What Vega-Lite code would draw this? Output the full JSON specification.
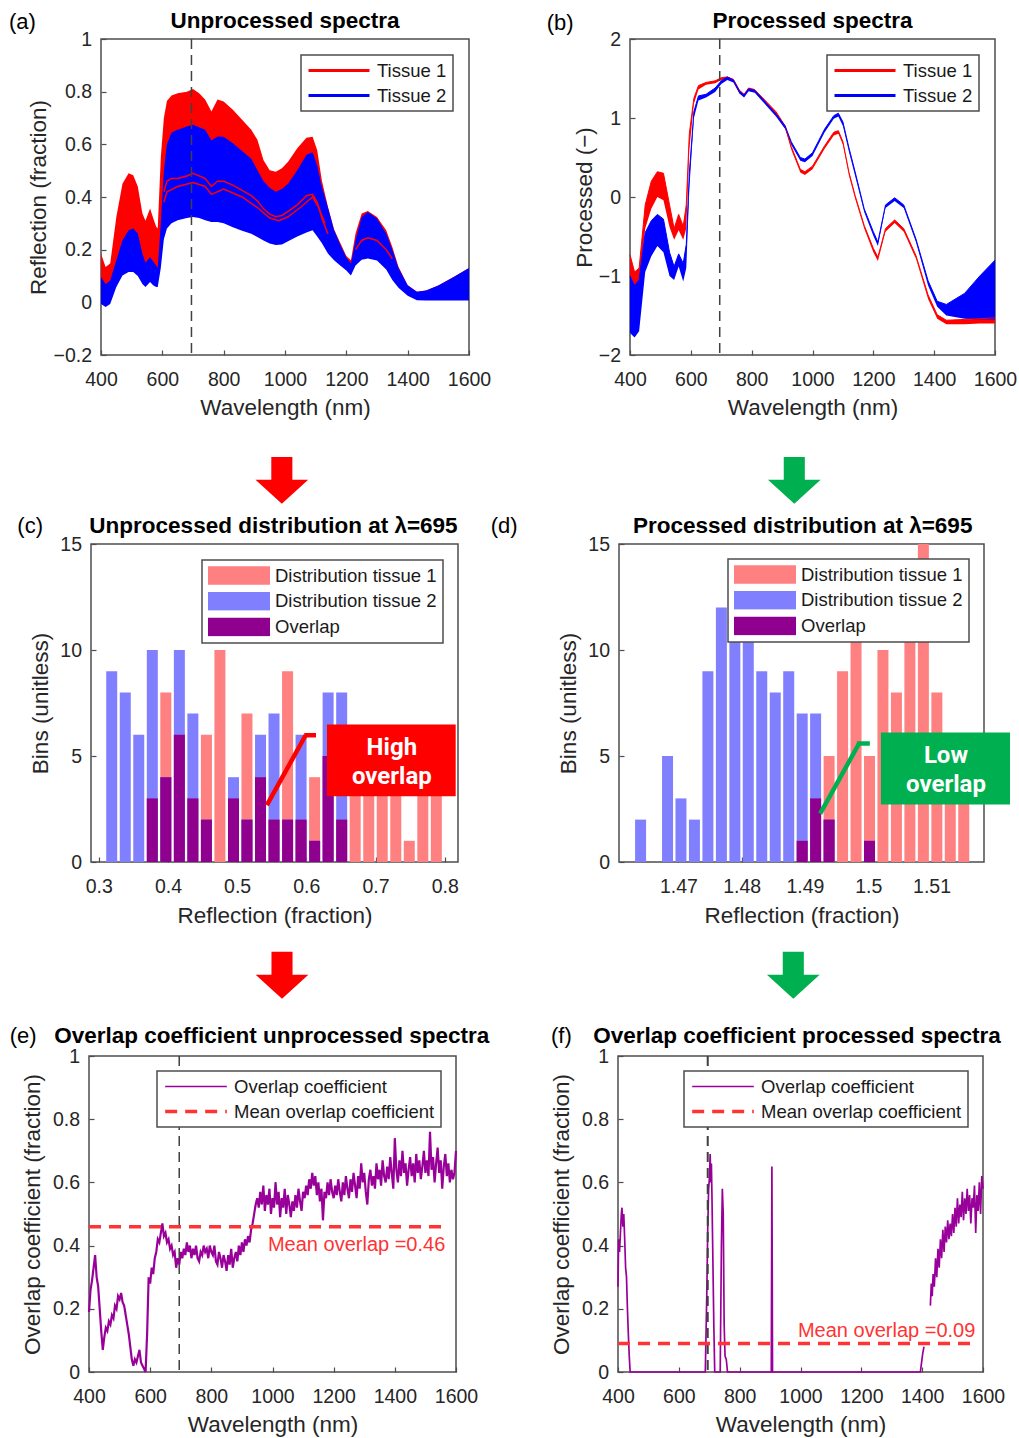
{
"$schema": "https://vega.github.io/schema/vega-lite/v6.json",
"padding": {"left": 8, "top": 9, "right": 4, "bottom": 4},
"background": "white",
"config": {
 "font": "Liberation Sans",
 "view": {"stroke": "#4d4d4d", "strokeWidth": 1.5},
 "axis": {"grid": false, "domain": false, "ticks": true, "tickSize": -5, "tickColor": "#4d4d4d", "tickWidth": 1.2, "labelFont": "Liberation Sans", "labelFontSize": 19.5, "labelColor": "#262626", "labelFlush": false, "labelOverlap": false, "titleFont": "Liberation Sans", "titleFontSize": 22.5, "titleFontWeight": "normal", "titleColor": "#262626"},
 "axisX": {"labelPadding": 20.5, "titleBaseline": "alphabetic", "titleAlign": "center"},
 "axisY": {"labelPadding": 14.5, "titleBaseline": "alphabetic", "titleAlign": "center"},
 "legend": {"labelFont": "Liberation Sans", "labelFontSize": 18.5, "labelColor": "#1a1a1a", "fillColor": "#ffffff", "strokeColor": "#4d4d4d", "strokeWidth": 1.5, "labelLimit": 500, "symbolOpacity": 1, "padding": 6, "clipHeight": 19}
},
"datasets": {
 "specA": [
  {"w":400,"t":"Tissue 1","hi":0.185,"lo":0.05},{"w":400,"t":"Tissue 2","hi":0.096,"lo":-0.006},
  {"w":415,"t":"Tissue 1","hi":0.134,"lo":0.03},{"w":415,"t":"Tissue 2","hi":0.07,"lo":-0.018},
  {"w":430,"t":"Tissue 1","hi":0.147,"lo":0.04},{"w":430,"t":"Tissue 2","hi":0.083,"lo":-0.006},
  {"w":450,"t":"Tissue 1","hi":0.324,"lo":0.1},{"w":450,"t":"Tissue 2","hi":0.16,"lo":0.058},
  {"w":470,"t":"Tissue 1","hi":0.45,"lo":0.15},{"w":470,"t":"Tissue 2","hi":0.236,"lo":0.102},
  {"w":490,"t":"Tissue 1","hi":0.49,"lo":0.18},{"w":490,"t":"Tissue 2","hi":0.274,"lo":0.115},
  {"w":505,"t":"Tissue 1","hi":0.483,"lo":0.18},{"w":505,"t":"Tissue 2","hi":0.28,"lo":0.115},
  {"w":520,"t":"Tissue 1","hi":0.44,"lo":0.16},{"w":520,"t":"Tissue 2","hi":0.261,"lo":0.1},
  {"w":535,"t":"Tissue 1","hi":0.337,"lo":0.12},{"w":535,"t":"Tissue 2","hi":0.185,"lo":0.07},
  {"w":545,"t":"Tissue 1","hi":0.31,"lo":0.1},{"w":545,"t":"Tissue 2","hi":0.15,"lo":0.058},
  {"w":560,"t":"Tissue 1","hi":0.356,"lo":0.12},{"w":560,"t":"Tissue 2","hi":0.172,"lo":0.077},
  {"w":570,"t":"Tissue 1","hi":0.32,"lo":0.1},{"w":570,"t":"Tissue 2","hi":0.155,"lo":0.065},
  {"w":580,"t":"Tissue 1","hi":0.287,"lo":0.1},{"w":580,"t":"Tissue 2","hi":0.14,"lo":0.058},
  {"w":585,"t":"Tissue 1","hi":0.28,"lo":0.09},{"w":585,"t":"Tissue 2","hi":0.13,"lo":0.058},
  {"w":595,"t":"Tissue 1","hi":0.55,"lo":0.2},{"w":595,"t":"Tissue 2","hi":0.3,"lo":0.13},
  {"w":605,"t":"Tissue 1","hi":0.7,"lo":0.3},{"w":605,"t":"Tissue 2","hi":0.5,"lo":0.24},
  {"w":615,"t":"Tissue 1","hi":0.765,"lo":0.35},{"w":615,"t":"Tissue 2","hi":0.6,"lo":0.28},
  {"w":630,"t":"Tissue 1","hi":0.785,"lo":0.36},{"w":630,"t":"Tissue 2","hi":0.645,"lo":0.3},
  {"w":650,"t":"Tissue 1","hi":0.794,"lo":0.37},{"w":650,"t":"Tissue 2","hi":0.655,"lo":0.312},
  {"w":680,"t":"Tissue 1","hi":0.8,"lo":0.38},{"w":680,"t":"Tissue 2","hi":0.668,"lo":0.32},
  {"w":700,"t":"Tissue 1","hi":0.81,"lo":0.39},{"w":700,"t":"Tissue 2","hi":0.674,"lo":0.324},
  {"w":720,"t":"Tissue 1","hi":0.794,"lo":0.38},{"w":720,"t":"Tissue 2","hi":0.665,"lo":0.32},
  {"w":740,"t":"Tissue 1","hi":0.769,"lo":0.37},{"w":740,"t":"Tissue 2","hi":0.655,"lo":0.312},
  {"w":760,"t":"Tissue 1","hi":0.725,"lo":0.36},{"w":760,"t":"Tissue 2","hi":0.615,"lo":0.305},
  {"w":780,"t":"Tissue 1","hi":0.77,"lo":0.36},{"w":780,"t":"Tissue 2","hi":0.63,"lo":0.305},
  {"w":800,"t":"Tissue 1","hi":0.763,"lo":0.36},{"w":800,"t":"Tissue 2","hi":0.629,"lo":0.3},
  {"w":830,"t":"Tissue 1","hi":0.731,"lo":0.34},{"w":830,"t":"Tissue 2","hi":0.604,"lo":0.285},
  {"w":860,"t":"Tissue 1","hi":0.693,"lo":0.33},{"w":860,"t":"Tissue 2","hi":0.575,"lo":0.272},
  {"w":890,"t":"Tissue 1","hi":0.655,"lo":0.31},{"w":890,"t":"Tissue 2","hi":0.545,"lo":0.26},
  {"w":910,"t":"Tissue 1","hi":0.617,"lo":0.3},{"w":910,"t":"Tissue 2","hi":0.502,"lo":0.248},
  {"w":930,"t":"Tissue 1","hi":0.54,"lo":0.28},{"w":930,"t":"Tissue 2","hi":0.46,"lo":0.235},
  {"w":950,"t":"Tissue 1","hi":0.502,"lo":0.27},{"w":950,"t":"Tissue 2","hi":0.435,"lo":0.223},
  {"w":970,"t":"Tissue 1","hi":0.496,"lo":0.26},{"w":970,"t":"Tissue 2","hi":0.42,"lo":0.218},
  {"w":990,"t":"Tissue 1","hi":0.509,"lo":0.27},{"w":990,"t":"Tissue 2","hi":0.43,"lo":0.22},
  {"w":1010,"t":"Tissue 1","hi":0.534,"lo":0.28},{"w":1010,"t":"Tissue 2","hi":0.45,"lo":0.232},
  {"w":1040,"t":"Tissue 1","hi":0.585,"lo":0.3},{"w":1040,"t":"Tissue 2","hi":0.502,"lo":0.25},
  {"w":1070,"t":"Tissue 1","hi":0.625,"lo":0.32},{"w":1070,"t":"Tissue 2","hi":0.56,"lo":0.265},
  {"w":1090,"t":"Tissue 1","hi":0.629,"lo":0.33},{"w":1090,"t":"Tissue 2","hi":0.57,"lo":0.274},
  {"w":1105,"t":"Tissue 1","hi":0.578,"lo":0.3},{"w":1105,"t":"Tissue 2","hi":0.52,"lo":0.25},
  {"w":1120,"t":"Tissue 1","hi":0.464,"lo":0.27},{"w":1120,"t":"Tissue 2","hi":0.44,"lo":0.225},
  {"w":1140,"t":"Tissue 1","hi":0.363,"lo":0.22},{"w":1140,"t":"Tissue 2","hi":0.36,"lo":0.185},
  {"w":1160,"t":"Tissue 1","hi":0.278,"lo":0.2},{"w":1160,"t":"Tissue 2","hi":0.274,"lo":0.16},
  {"w":1180,"t":"Tissue 1","hi":0.226,"lo":0.17},{"w":1180,"t":"Tissue 2","hi":0.22,"lo":0.14},
  {"w":1200,"t":"Tissue 1","hi":0.176,"lo":0.14},{"w":1200,"t":"Tissue 2","hi":0.17,"lo":0.121},
  {"w":1215,"t":"Tissue 1","hi":0.16,"lo":0.12},{"w":1215,"t":"Tissue 2","hi":0.147,"lo":0.102},
  {"w":1230,"t":"Tissue 1","hi":0.261,"lo":0.17},{"w":1230,"t":"Tissue 2","hi":0.236,"lo":0.14},
  {"w":1250,"t":"Tissue 1","hi":0.337,"lo":0.2},{"w":1250,"t":"Tissue 2","hi":0.324,"lo":0.162},
  {"w":1270,"t":"Tissue 1","hi":0.347,"lo":0.2},{"w":1270,"t":"Tissue 2","hi":0.343,"lo":0.166},
  {"w":1300,"t":"Tissue 1","hi":0.324,"lo":0.19},{"w":1300,"t":"Tissue 2","hi":0.318,"lo":0.159},
  {"w":1330,"t":"Tissue 1","hi":0.274,"lo":0.15},{"w":1330,"t":"Tissue 2","hi":0.261,"lo":0.125},
  {"w":1350,"t":"Tissue 1","hi":0.21,"lo":0.12},{"w":1350,"t":"Tissue 2","hi":0.2,"lo":0.085},
  {"w":1370,"t":"Tissue 1","hi":0.135,"lo":0.08},{"w":1370,"t":"Tissue 2","hi":0.13,"lo":0.055},
  {"w":1400,"t":"Tissue 1","hi":0.065,"lo":0.03},{"w":1400,"t":"Tissue 2","hi":0.065,"lo":0.025},
  {"w":1430,"t":"Tissue 1","hi":0.04,"lo":0.015},{"w":1430,"t":"Tissue 2","hi":0.04,"lo":0.008},
  {"w":1460,"t":"Tissue 1","hi":0.045,"lo":0.015},{"w":1460,"t":"Tissue 2","hi":0.045,"lo":0.007},
  {"w":1500,"t":"Tissue 1","hi":0.064,"lo":0.015},{"w":1500,"t":"Tissue 2","hi":0.064,"lo":0.007},
  {"w":1550,"t":"Tissue 1","hi":0.096,"lo":0.015},{"w":1550,"t":"Tissue 2","hi":0.096,"lo":0.007},
  {"w":1600,"t":"Tissue 1","hi":0.13,"lo":0.015},{"w":1600,"t":"Tissue 2","hi":0.13,"lo":0.007}
 ],
 "linesA": [
  {"w":605,"v":0.42,"l":"L1","t":"Tissue 1"},{"w":615,"v":0.46,"l":"L1","t":"Tissue 1"},{"w":630,"v":0.47,"l":"L1","t":"Tissue 1"},{"w":650,"v":0.47,"l":"L1","t":"Tissue 1"},{"w":680,"v":0.48,"l":"L1","t":"Tissue 1"},{"w":700,"v":0.49,"l":"L1","t":"Tissue 1"},{"w":720,"v":0.48,"l":"L1","t":"Tissue 1"},{"w":740,"v":0.47,"l":"L1","t":"Tissue 1"},{"w":760,"v":0.44,"l":"L1","t":"Tissue 1"},{"w":780,"v":0.46,"l":"L1","t":"Tissue 1"},{"w":800,"v":0.46,"l":"L1","t":"Tissue 1"},{"w":830,"v":0.445,"l":"L1","t":"Tissue 1"},{"w":860,"v":0.425,"l":"L1","t":"Tissue 1"},{"w":890,"v":0.405,"l":"L1","t":"Tissue 1"},{"w":910,"v":0.385,"l":"L1","t":"Tissue 1"},{"w":930,"v":0.355,"l":"L1","t":"Tissue 1"},{"w":950,"v":0.335,"l":"L1","t":"Tissue 1"},{"w":970,"v":0.325,"l":"L1","t":"Tissue 1"},{"w":990,"v":0.33,"l":"L1","t":"Tissue 1"},{"w":1010,"v":0.345,"l":"L1","t":"Tissue 1"},{"w":1040,"v":0.37,"l":"L1","t":"Tissue 1"},{"w":1070,"v":0.405,"l":"L1","t":"Tissue 1"},{"w":1090,"v":0.41,"l":"L1","t":"Tissue 1"},{"w":1105,"v":0.38,"l":"L1","t":"Tissue 1"},{"w":1120,"v":0.32,"l":"L1","t":"Tissue 1"},{"w":1140,"v":0.26,"l":"L1","t":"Tissue 1"},
  {"w":605,"v":0.38,"l":"L2","t":"Tissue 1"},{"w":615,"v":0.42,"l":"L2","t":"Tissue 1"},{"w":650,"v":0.44,"l":"L2","t":"Tissue 1"},{"w":700,"v":0.455,"l":"L2","t":"Tissue 1"},{"w":740,"v":0.44,"l":"L2","t":"Tissue 1"},{"w":760,"v":0.41,"l":"L2","t":"Tissue 1"},{"w":800,"v":0.43,"l":"L2","t":"Tissue 1"},{"w":860,"v":0.4,"l":"L2","t":"Tissue 1"},{"w":910,"v":0.36,"l":"L2","t":"Tissue 1"},{"w":950,"v":0.32,"l":"L2","t":"Tissue 1"},{"w":980,"v":0.31,"l":"L2","t":"Tissue 1"},{"w":1010,"v":0.325,"l":"L2","t":"Tissue 1"},{"w":1050,"v":0.36,"l":"L2","t":"Tissue 1"},{"w":1090,"v":0.4,"l":"L2","t":"Tissue 1"},{"w":1110,"v":0.36,"l":"L2","t":"Tissue 1"},{"w":1130,"v":0.3,"l":"L2","t":"Tissue 1"},
  {"w":1230,"v":0.2,"l":"L3","t":"Tissue 1"},{"w":1250,"v":0.235,"l":"L3","t":"Tissue 1"},{"w":1270,"v":0.245,"l":"L3","t":"Tissue 1"},{"w":1300,"v":0.235,"l":"L3","t":"Tissue 1"},{"w":1330,"v":0.2,"l":"L3","t":"Tissue 1"},{"w":1350,"v":0.165,"l":"L3","t":"Tissue 1"}
 ],
 "specB": [
  {"w":400,"t":"Tissue 1","hi":-0.73,"lo":-1.0},{"w":400,"t":"Tissue 2","hi":-1.0,"lo":-1.72},
  {"w":415,"t":"Tissue 1","hi":-0.95,"lo":-1.12},{"w":415,"t":"Tissue 2","hi":-1.12,"lo":-1.78},
  {"w":430,"t":"Tissue 1","hi":-0.9,"lo":-1.1},{"w":430,"t":"Tissue 2","hi":-1.05,"lo":-1.7},
  {"w":450,"t":"Tissue 1","hi":-0.1,"lo":-0.4},{"w":450,"t":"Tissue 2","hi":-0.45,"lo":-0.95},
  {"w":470,"t":"Tissue 1","hi":0.2,"lo":-0.15},{"w":470,"t":"Tissue 2","hi":-0.3,"lo":-0.75},
  {"w":490,"t":"Tissue 1","hi":0.32,"lo":0.0},{"w":490,"t":"Tissue 2","hi":-0.22,"lo":-0.62},
  {"w":510,"t":"Tissue 1","hi":0.3,"lo":-0.04},{"w":510,"t":"Tissue 2","hi":-0.28,"lo":-0.7},
  {"w":530,"t":"Tissue 1","hi":-0.1,"lo":-0.38},{"w":530,"t":"Tissue 2","hi":-0.7,"lo":-1.0},
  {"w":545,"t":"Tissue 1","hi":-0.4,"lo":-0.54},{"w":545,"t":"Tissue 2","hi":-0.88,"lo":-1.05},
  {"w":560,"t":"Tissue 1","hi":-0.22,"lo":-0.42},{"w":560,"t":"Tissue 2","hi":-0.72,"lo":-0.88},
  {"w":575,"t":"Tissue 1","hi":-0.37,"lo":-0.54},{"w":575,"t":"Tissue 2","hi":-0.84,"lo":-1.07},
  {"w":585,"t":"Tissue 1","hi":-0.1,"lo":-0.4},{"w":585,"t":"Tissue 2","hi":-0.6,"lo":-0.9},
  {"w":595,"t":"Tissue 1","hi":0.8,"lo":0.6},{"w":595,"t":"Tissue 2","hi":0.3,"lo":0.1},
  {"w":610,"t":"Tissue 1","hi":1.25,"lo":1.18},{"w":610,"t":"Tissue 2","hi":1.08,"lo":1.0},
  {"w":625,"t":"Tissue 1","hi":1.41,"lo":1.36},{"w":625,"t":"Tissue 2","hi":1.28,"lo":1.22},
  {"w":650,"t":"Tissue 1","hi":1.45,"lo":1.42},{"w":650,"t":"Tissue 2","hi":1.3,"lo":1.26},
  {"w":680,"t":"Tissue 1","hi":1.47,"lo":1.44},{"w":680,"t":"Tissue 2","hi":1.38,"lo":1.33},
  {"w":700,"t":"Tissue 1","hi":1.51,"lo":1.48},{"w":700,"t":"Tissue 2","hi":1.47,"lo":1.43},
  {"w":720,"t":"Tissue 1","hi":1.52,"lo":1.49},{"w":720,"t":"Tissue 2","hi":1.52,"lo":1.48},
  {"w":740,"t":"Tissue 1","hi":1.49,"lo":1.46},{"w":740,"t":"Tissue 2","hi":1.48,"lo":1.45},
  {"w":760,"t":"Tissue 1","hi":1.35,"lo":1.31},{"w":760,"t":"Tissue 2","hi":1.34,"lo":1.31},
  {"w":775,"t":"Tissue 1","hi":1.3,"lo":1.27},{"w":775,"t":"Tissue 2","hi":1.29,"lo":1.26},
  {"w":790,"t":"Tissue 1","hi":1.38,"lo":1.35},{"w":790,"t":"Tissue 2","hi":1.37,"lo":1.34},
  {"w":810,"t":"Tissue 1","hi":1.36,"lo":1.33},{"w":810,"t":"Tissue 2","hi":1.35,"lo":1.32},
  {"w":850,"t":"Tissue 1","hi":1.2,"lo":1.17},{"w":850,"t":"Tissue 2","hi":1.18,"lo":1.15},
  {"w":880,"t":"Tissue 1","hi":1.08,"lo":1.05},{"w":880,"t":"Tissue 2","hi":1.05,"lo":1.02},
  {"w":910,"t":"Tissue 1","hi":0.9,"lo":0.87},{"w":910,"t":"Tissue 2","hi":0.9,"lo":0.86},
  {"w":930,"t":"Tissue 1","hi":0.64,"lo":0.6},{"w":930,"t":"Tissue 2","hi":0.7,"lo":0.66},
  {"w":960,"t":"Tissue 1","hi":0.35,"lo":0.31},{"w":960,"t":"Tissue 2","hi":0.5,"lo":0.46},
  {"w":975,"t":"Tissue 1","hi":0.32,"lo":0.28},{"w":975,"t":"Tissue 2","hi":0.48,"lo":0.44},
  {"w":1000,"t":"Tissue 1","hi":0.39,"lo":0.35},{"w":1000,"t":"Tissue 2","hi":0.56,"lo":0.52},
  {"w":1040,"t":"Tissue 1","hi":0.65,"lo":0.61},{"w":1040,"t":"Tissue 2","hi":0.86,"lo":0.82},
  {"w":1070,"t":"Tissue 1","hi":0.82,"lo":0.78},{"w":1070,"t":"Tissue 2","hi":1.03,"lo":0.99},
  {"w":1085,"t":"Tissue 1","hi":0.84,"lo":0.8},{"w":1085,"t":"Tissue 2","hi":1.06,"lo":1.02},
  {"w":1100,"t":"Tissue 1","hi":0.7,"lo":0.66},{"w":1100,"t":"Tissue 2","hi":0.95,"lo":0.9},
  {"w":1120,"t":"Tissue 1","hi":0.31,"lo":0.27},{"w":1120,"t":"Tissue 2","hi":0.62,"lo":0.57},
  {"w":1140,"t":"Tissue 1","hi":0.02,"lo":-0.02},{"w":1140,"t":"Tissue 2","hi":0.32,"lo":0.27},
  {"w":1170,"t":"Tissue 1","hi":-0.36,"lo":-0.4},{"w":1170,"t":"Tissue 2","hi":-0.15,"lo":-0.19},
  {"w":1200,"t":"Tissue 1","hi":-0.65,"lo":-0.7},{"w":1200,"t":"Tissue 2","hi":-0.44,"lo":-0.49},
  {"w":1215,"t":"Tissue 1","hi":-0.76,"lo":-0.81},{"w":1215,"t":"Tissue 2","hi":-0.57,"lo":-0.62},
  {"w":1240,"t":"Tissue 1","hi":-0.4,"lo":-0.44},{"w":1240,"t":"Tissue 2","hi":-0.1,"lo":-0.14},
  {"w":1270,"t":"Tissue 1","hi":-0.29,"lo":-0.33},{"w":1270,"t":"Tissue 2","hi":-0.01,"lo":-0.05},
  {"w":1300,"t":"Tissue 1","hi":-0.4,"lo":-0.44},{"w":1300,"t":"Tissue 2","hi":-0.1,"lo":-0.14},
  {"w":1340,"t":"Tissue 1","hi":-0.74,"lo":-0.78},{"w":1340,"t":"Tissue 2","hi":-0.53,"lo":-0.57},
  {"w":1380,"t":"Tissue 1","hi":-1.24,"lo":-1.29},{"w":1380,"t":"Tissue 2","hi":-1.06,"lo":-1.12},
  {"w":1410,"t":"Tissue 1","hi":-1.49,"lo":-1.54},{"w":1410,"t":"Tissue 2","hi":-1.32,"lo":-1.39},
  {"w":1440,"t":"Tissue 1","hi":-1.56,"lo":-1.61},{"w":1440,"t":"Tissue 2","hi":-1.36,"lo":-1.5},
  {"w":1500,"t":"Tissue 1","hi":-1.55,"lo":-1.61},{"w":1500,"t":"Tissue 2","hi":-1.22,"lo":-1.54},
  {"w":1550,"t":"Tissue 1","hi":-1.54,"lo":-1.6},{"w":1550,"t":"Tissue 2","hi":-1.0,"lo":-1.55},
  {"w":1600,"t":"Tissue 1","hi":-1.53,"lo":-1.6},{"w":1600,"t":"Tissue 2","hi":-0.8,"lo":-1.55}
 ],
 "histC": [
  {"x":0.3774,"s":"Distribution tissue 1","n":3},{"x":0.3969,"s":"Distribution tissue 1","n":8},{"x":0.4165,"s":"Distribution tissue 1","n":6},{"x":0.436,"s":"Distribution tissue 1","n":3},{"x":0.4556,"s":"Distribution tissue 1","n":6},{"x":0.4751,"s":"Distribution tissue 1","n":10},{"x":0.4947,"s":"Distribution tissue 1","n":3},{"x":0.5142,"s":"Distribution tissue 1","n":7},{"x":0.5338,"s":"Distribution tissue 1","n":4},{"x":0.5533,"s":"Distribution tissue 1","n":2},{"x":0.5729,"s":"Distribution tissue 1","n":9},{"x":0.5924,"s":"Distribution tissue 1","n":2},{"x":0.612,"s":"Distribution tissue 1","n":4},{"x":0.6315,"s":"Distribution tissue 1","n":5},{"x":0.6511,"s":"Distribution tissue 1","n":2},{"x":0.6706,"s":"Distribution tissue 1","n":4},{"x":0.6902,"s":"Distribution tissue 1","n":5},{"x":0.7097,"s":"Distribution tissue 1","n":4},{"x":0.7293,"s":"Distribution tissue 1","n":4},{"x":0.7488,"s":"Distribution tissue 1","n":1},{"x":0.7684,"s":"Distribution tissue 1","n":5},{"x":0.7879,"s":"Distribution tissue 1","n":4},
  {"x":0.3187,"s":"Distribution tissue 2","n":9},{"x":0.3383,"s":"Distribution tissue 2","n":8},{"x":0.3578,"s":"Distribution tissue 2","n":6},{"x":0.3774,"s":"Distribution tissue 2","n":10},{"x":0.3969,"s":"Distribution tissue 2","n":4},{"x":0.4165,"s":"Distribution tissue 2","n":10},{"x":0.436,"s":"Distribution tissue 2","n":7},{"x":0.4556,"s":"Distribution tissue 2","n":2},{"x":0.4947,"s":"Distribution tissue 2","n":4},{"x":0.5142,"s":"Distribution tissue 2","n":2},{"x":0.5338,"s":"Distribution tissue 2","n":6},{"x":0.5533,"s":"Distribution tissue 2","n":7},{"x":0.5729,"s":"Distribution tissue 2","n":2},{"x":0.5924,"s":"Distribution tissue 2","n":6},{"x":0.612,"s":"Distribution tissue 2","n":1},{"x":0.6315,"s":"Distribution tissue 2","n":8},{"x":0.6511,"s":"Distribution tissue 2","n":8},
  {"x":0.3774,"s":"Overlap","n":3},{"x":0.3969,"s":"Overlap","n":4},{"x":0.4165,"s":"Overlap","n":6},{"x":0.436,"s":"Overlap","n":3},{"x":0.4556,"s":"Overlap","n":2},{"x":0.4947,"s":"Overlap","n":3},{"x":0.5142,"s":"Overlap","n":2},{"x":0.5338,"s":"Overlap","n":4},{"x":0.5533,"s":"Overlap","n":2},{"x":0.5729,"s":"Overlap","n":2},{"x":0.5924,"s":"Overlap","n":2},{"x":0.612,"s":"Overlap","n":1},{"x":0.6315,"s":"Overlap","n":5},{"x":0.6511,"s":"Overlap","n":2}
 ],
 "histD": [
  {"x":1.48956,"s":"Distribution tissue 1","n":1},{"x":1.49168,"s":"Distribution tissue 1","n":3},{"x":1.49381,"s":"Distribution tissue 1","n":5},{"x":1.49594,"s":"Distribution tissue 1","n":9},{"x":1.49807,"s":"Distribution tissue 1","n":12},{"x":1.5002,"s":"Distribution tissue 1","n":5},{"x":1.50232,"s":"Distribution tissue 1","n":10},{"x":1.50445,"s":"Distribution tissue 1","n":8},{"x":1.50658,"s":"Distribution tissue 1","n":12},{"x":1.50871,"s":"Distribution tissue 1","n":15},{"x":1.51084,"s":"Distribution tissue 1","n":8},{"x":1.51296,"s":"Distribution tissue 1","n":5},{"x":1.51509,"s":"Distribution tissue 1","n":3},
  {"x":1.46402,"s":"Distribution tissue 2","n":2},{"x":1.46828,"s":"Distribution tissue 2","n":5},{"x":1.4704,"s":"Distribution tissue 2","n":3},{"x":1.47253,"s":"Distribution tissue 2","n":2},{"x":1.47466,"s":"Distribution tissue 2","n":9},{"x":1.47679,"s":"Distribution tissue 2","n":12},{"x":1.47892,"s":"Distribution tissue 2","n":12},{"x":1.48104,"s":"Distribution tissue 2","n":12},{"x":1.48317,"s":"Distribution tissue 2","n":9},{"x":1.4853,"s":"Distribution tissue 2","n":8},{"x":1.48743,"s":"Distribution tissue 2","n":9},{"x":1.48956,"s":"Distribution tissue 2","n":7},{"x":1.49168,"s":"Distribution tissue 2","n":7},{"x":1.49381,"s":"Distribution tissue 2","n":2},{"x":1.5002,"s":"Distribution tissue 2","n":1},
  {"x":1.48956,"s":"Overlap","n":1},{"x":1.49168,"s":"Overlap","n":3},{"x":1.49381,"s":"Overlap","n":2},{"x":1.5002,"s":"Overlap","n":1}
 ],
 "ovE": [
  {"w":400,"v":0.19},{"w":405,"v":0.26},{"w":410,"v":0.29},{"w":415,"v":0.33},{"w":420,"v":0.37},{"w":425,"v":0.3},{"w":430,"v":0.27},{"w":435,"v":0.2},{"w":440,"v":0.13},{"w":445,"v":0.07},{"w":450,"v":0.11},{"w":455,"v":0.14},{"w":460,"v":0.13},{"w":465,"v":0.16},{"w":470,"v":0.15},{"w":475,"v":0.18},{"w":480,"v":0.17},{"w":485,"v":0.21},{"w":490,"v":0.2},{"w":495,"v":0.24},{"w":500,"v":0.23},{"w":505,"v":0.25},{"w":510,"v":0.22},{"w":515,"v":0.21},{"w":520,"v":0.18},{"w":525,"v":0.15},{"w":530,"v":0.12},{"w":535,"v":0.08},{"w":540,"v":0.04},{"w":545,"v":0.02},{"w":550,"v":0.04},{"w":555,"v":0.03},{"w":560,"v":0.05},{"w":565,"v":0.07},{"w":570,"v":0.03},{"w":575,"v":0.02},{"w":580,"v":0.01},{"w":585,"v":0.0},{"w":590,"v":0.12},{"w":595,"v":0.3},
  {"w":600,"v":0.28},{"w":605,"v":0.33},{"w":610,"v":0.31},{"w":615,"v":0.36},{"w":620,"v":0.38},{"w":625,"v":0.42},{"w":630,"v":0.41},{"w":635,"v":0.44},{"w":640,"v":0.47},{"w":645,"v":0.43},{"w":650,"v":0.44},{"w":655,"v":0.41},{"w":660,"v":0.42},{"w":665,"v":0.39},{"w":670,"v":0.4},{"w":675,"v":0.37},{"w":680,"v":0.38},{"w":685,"v":0.33},{"w":690,"v":0.36},{"w":695,"v":0.34},{"w":700,"v":0.38},{"w":705,"v":0.36},{"w":710,"v":0.39},{"w":715,"v":0.37},{"w":720,"v":0.41},{"w":725,"v":0.38},{"w":730,"v":0.4},{"w":735,"v":0.36},{"w":740,"v":0.39},{"w":745,"v":0.37},{"w":750,"v":0.4},{"w":755,"v":0.36},{"w":760,"v":0.35},{"w":765,"v":0.38},{"w":770,"v":0.37},{"w":775,"v":0.4},{"w":780,"v":0.38},{"w":785,"v":0.39},{"w":790,"v":0.36},{"w":795,"v":0.4},
  {"w":800,"v":0.38},{"w":805,"v":0.37},{"w":810,"v":0.4},{"w":815,"v":0.35},{"w":820,"v":0.34},{"w":825,"v":0.38},{"w":830,"v":0.36},{"w":835,"v":0.33},{"w":840,"v":0.37},{"w":845,"v":0.35},{"w":850,"v":0.32},{"w":855,"v":0.37},{"w":860,"v":0.34},{"w":865,"v":0.39},{"w":870,"v":0.33},{"w":875,"v":0.36},{"w":880,"v":0.38},{"w":885,"v":0.35},{"w":890,"v":0.4},{"w":895,"v":0.37},{"w":900,"v":0.41},{"w":905,"v":0.38},{"w":910,"v":0.42},{"w":915,"v":0.4},{"w":920,"v":0.43},{"w":925,"v":0.41},{"w":930,"v":0.45},{"w":935,"v":0.47},{"w":940,"v":0.5},{"w":945,"v":0.53},{"w":950,"v":0.55},{"w":955,"v":0.52},{"w":960,"v":0.57},{"w":965,"v":0.53},{"w":970,"v":0.59},{"w":975,"v":0.51},{"w":980,"v":0.56},{"w":985,"v":0.53},{"w":990,"v":0.58},{"w":995,"v":0.5},
  {"w":1000,"v":0.55},{"w":1005,"v":0.52},{"w":1010,"v":0.6},{"w":1015,"v":0.53},{"w":1020,"v":0.57},{"w":1025,"v":0.49},{"w":1030,"v":0.55},{"w":1035,"v":0.52},{"w":1040,"v":0.58},{"w":1045,"v":0.5},{"w":1050,"v":0.56},{"w":1055,"v":0.53},{"w":1060,"v":0.49},{"w":1065,"v":0.54},{"w":1070,"v":0.51},{"w":1075,"v":0.56},{"w":1080,"v":0.52},{"w":1085,"v":0.58},{"w":1090,"v":0.54},{"w":1095,"v":0.51},{"w":1100,"v":0.57},{"w":1105,"v":0.55},{"w":1110,"v":0.59},{"w":1115,"v":0.56},{"w":1120,"v":0.61},{"w":1125,"v":0.58},{"w":1130,"v":0.63},{"w":1135,"v":0.59},{"w":1140,"v":0.62},{"w":1145,"v":0.56},{"w":1150,"v":0.6},{"w":1155,"v":0.54},{"w":1160,"v":0.58},{"w":1165,"v":0.48},{"w":1170,"v":0.57},{"w":1175,"v":0.55},{"w":1180,"v":0.6},{"w":1185,"v":0.56},{"w":1190,"v":0.61},{"w":1195,"v":0.57},
  {"w":1200,"v":0.55},{"w":1205,"v":0.59},{"w":1210,"v":0.56},{"w":1215,"v":0.61},{"w":1220,"v":0.57},{"w":1225,"v":0.54},{"w":1230,"v":0.6},{"w":1235,"v":0.56},{"w":1240,"v":0.62},{"w":1245,"v":0.58},{"w":1250,"v":0.55},{"w":1255,"v":0.61},{"w":1260,"v":0.57},{"w":1265,"v":0.63},{"w":1270,"v":0.59},{"w":1275,"v":0.55},{"w":1280,"v":0.62},{"w":1285,"v":0.58},{"w":1290,"v":0.66},{"w":1295,"v":0.6},{"w":1300,"v":0.63},{"w":1305,"v":0.57},{"w":1310,"v":0.53},{"w":1315,"v":0.61},{"w":1320,"v":0.64},{"w":1325,"v":0.59},{"w":1330,"v":0.62},{"w":1335,"v":0.58},{"w":1340,"v":0.66},{"w":1345,"v":0.61},{"w":1350,"v":0.64},{"w":1355,"v":0.59},{"w":1360,"v":0.67},{"w":1365,"v":0.62},{"w":1370,"v":0.6},{"w":1375,"v":0.65},{"w":1380,"v":0.61},{"w":1385,"v":0.68},{"w":1390,"v":0.63},{"w":1395,"v":0.58},
  {"w":1400,"v":0.74},{"w":1405,"v":0.64},{"w":1410,"v":0.6},{"w":1415,"v":0.67},{"w":1420,"v":0.62},{"w":1425,"v":0.7},{"w":1430,"v":0.63},{"w":1435,"v":0.66},{"w":1440,"v":0.59},{"w":1445,"v":0.64},{"w":1450,"v":0.68},{"w":1455,"v":0.62},{"w":1460,"v":0.66},{"w":1465,"v":0.6},{"w":1470,"v":0.69},{"w":1475,"v":0.63},{"w":1480,"v":0.67},{"w":1485,"v":0.61},{"w":1490,"v":0.65},{"w":1495,"v":0.7},{"w":1500,"v":0.63},{"w":1505,"v":0.67},{"w":1510,"v":0.62},{"w":1515,"v":0.76},{"w":1520,"v":0.64},{"w":1525,"v":0.68},{"w":1530,"v":0.6},{"w":1535,"v":0.66},{"w":1540,"v":0.71},{"w":1545,"v":0.63},{"w":1550,"v":0.67},{"w":1555,"v":0.58},{"w":1560,"v":0.65},{"w":1565,"v":0.69},{"w":1570,"v":0.62},{"w":1575,"v":0.66},{"w":1580,"v":0.6},{"w":1585,"v":0.64},{"w":1590,"v":0.61},{"w":1595,"v":0.63},{"w":1600,"v":0.7}
 ],
 "ovF": [
  {"w":400,"v":0.27,"g":"a"},{"w":402,"v":0.42,"g":"a"},{"w":405,"v":0.38,"g":"a"},{"w":408,"v":0.44,"g":"a"},{"w":411,"v":0.5,"g":"a"},{"w":413,"v":0.52,"g":"a"},{"w":416,"v":0.46,"g":"a"},{"w":419,"v":0.5,"g":"a"},{"w":422,"v":0.42,"g":"a"},{"w":425,"v":0.33,"g":"a"},{"w":428,"v":0.3,"g":"a"},{"w":431,"v":0.2,"g":"a"},{"w":434,"v":0.12,"g":"a"},{"w":437,"v":0.05,"g":"a"},{"w":440,"v":0.0,"g":"a"},{"w":687,"v":0.0,"g":"a"},{"w":692,"v":0.25,"g":"a"},{"w":695,"v":0.45,"g":"a"},{"w":698,"v":0.58,"g":"a"},{"w":701,"v":0.62,"g":"a"},{"w":703,"v":0.69,"g":"a"},{"w":705,"v":0.6,"g":"a"},{"w":707,"v":0.66,"g":"a"},{"w":709,"v":0.55,"g":"a"},{"w":712,"v":0.35,"g":"a"},{"w":715,"v":0.15,"g":"a"},{"w":718,"v":0.0,"g":"a"},{"w":736,"v":0.0,"g":"a"},{"w":740,"v":0.4,"g":"a"},{"w":743,"v":0.58,"g":"a"},{"w":746,"v":0.5,"g":"a"},{"w":749,"v":0.15,"g":"a"},{"w":752,"v":0.05,"g":"a"},{"w":756,"v":0.04,"g":"a"},{"w":760,"v":0.0,"g":"a"},{"w":904,"v":0.0,"g":"a"},{"w":906,"v":0.65,"g":"a"},{"w":908,"v":0.0,"g":"a"},{"w":1394,"v":0.0,"g":"a"},{"w":1398,"v":0.03,"g":"a"},{"w":1402,"v":0.06,"g":"a"},{"w":1406,"v":0.08,"g":"a"},
  {"w":1427,"v":0.21,"g":"b"},{"w":1430,"v":0.28,"g":"b"},{"w":1433,"v":0.24,"g":"b"},{"w":1436,"v":0.31,"g":"b"},{"w":1440,"v":0.27,"g":"b"},{"w":1444,"v":0.36,"g":"b"},{"w":1448,"v":0.3,"g":"b"},{"w":1452,"v":0.39,"g":"b"},{"w":1456,"v":0.33,"g":"b"},{"w":1460,"v":0.42,"g":"b"},{"w":1464,"v":0.36,"g":"b"},{"w":1468,"v":0.45,"g":"b"},{"w":1472,"v":0.38,"g":"b"},{"w":1476,"v":0.46,"g":"b"},{"w":1480,"v":0.41,"g":"b"},{"w":1484,"v":0.48,"g":"b"},{"w":1488,"v":0.42,"g":"b"},{"w":1492,"v":0.47,"g":"b"},{"w":1496,"v":0.43,"g":"b"},{"w":1500,"v":0.5,"g":"b"},{"w":1504,"v":0.44,"g":"b"},{"w":1508,"v":0.52,"g":"b"},{"w":1512,"v":0.46,"g":"b"},{"w":1516,"v":0.55,"g":"b"},{"w":1520,"v":0.47,"g":"b"},{"w":1524,"v":0.53,"g":"b"},{"w":1528,"v":0.49,"g":"b"},{"w":1532,"v":0.57,"g":"b"},{"w":1536,"v":0.48,"g":"b"},{"w":1540,"v":0.55,"g":"b"},{"w":1544,"v":0.5,"g":"b"},{"w":1548,"v":0.58,"g":"b"},{"w":1552,"v":0.51,"g":"b"},{"w":1556,"v":0.56,"g":"b"},{"w":1560,"v":0.47,"g":"b"},{"w":1564,"v":0.55,"g":"b"},{"w":1568,"v":0.52,"g":"b"},{"w":1572,"v":0.59,"g":"b"},{"w":1576,"v":0.44,"g":"b"},{"w":1580,"v":0.56,"g":"b"},{"w":1584,"v":0.51,"g":"b"},{"w":1588,"v":0.6,"g":"b"},{"w":1592,"v":0.5,"g":"b"},{"w":1596,"v":0.62,"g":"b"},{"w":1600,"v":0.58,"g":"b"}
 ],
 "meanE": [{"w":400,"v":0.46},{"w":1575,"v":0.46}],
 "meanF": [{"w":400,"v":0.09},{"w":1575,"v":0.09}]
},
"spacing": 36,
"resolve": {"scale": {"color": "independent", "strokeDash": "independent", "strokeWidth": "independent"}, "legend": {"color": "independent", "strokeDash": "independent", "strokeWidth": "independent"}},
"vconcat": [
 {"spacing": 0, "bounds": "flush",
  "resolve": {"scale": {"color": "independent", "strokeDash": "independent", "strokeWidth": "independent"}, "legend": {"color": "independent", "strokeDash": "independent", "strokeWidth": "independent"}},
  "hconcat": [
  {"width": 92, "height": 316, "view": {"stroke": null}, "data": {"values": []}, "mark": "point", "encoding": {}},
  {"width": 368, "height": 316,
   "layer": [
    {"data": {"name": "specA"}, "transform": [{"filter": {"field": "t", "equal": "Tissue 1"}}],
     "mark": {"type": "area", "color": "#FF0000", "opacity": 1},
     "encoding": {
      "x": {"field": "w", "type": "quantitative", "scale": {"domain": [400, 1600], "nice": false, "zero": false}, "axis": {"values": [400,600,800,1000,1200,1400,1600], "format": "d", "title": "Wavelength (nm)", "titleX": 184, "titleY": 59}},
      "y": {"field": "hi", "type": "quantitative", "scale": {"domain": [-0.2, 1], "nice": false, "zero": false}, "axis": {"values": [-0.2,0,0.2,0.4,0.6,0.8,1], "format": "~g", "title": "Reflection (fraction)", "titleX": -55.6, "titleY": 158}},
      "y2": {"field": "lo"}}},
    {"data": {"name": "specA"}, "transform": [{"filter": {"field": "t", "equal": "Tissue 2"}}],
     "mark": {"type": "area", "color": "#0000FF", "opacity": 1},
     "encoding": {"x": {"field": "w", "type": "quantitative"}, "y": {"field": "hi", "type": "quantitative"}, "y2": {"field": "lo"}}},
    {"data": {"name": "linesA"},
     "mark": {"type": "line", "strokeWidth": 1.5},
     "encoding": {"x": {"field": "w", "type": "quantitative"}, "y": {"field": "v", "type": "quantitative"}, "detail": {"field": "l"},
      "color": {"field": "t", "type": "nominal", "scale": {"domain": ["Tissue 1", "Tissue 2"], "range": ["#FF0000", "#0000FF"]},
       "legend": {"title": null, "orient": "top-right", "offset": 16, "symbolType": "stroke", "symbolSize": 3721, "symbolStrokeWidth": 3, "labelOffset": 6, "rowPadding": 6}}}},
    {"data": {"values": [{}]}, "mark": {"type": "rule", "color": "#404040", "strokeDash": [10, 6], "strokeWidth": 1.5}, "encoding": {"x": {"datum": 695}}},
    {"data": {"values": [{}]}, "mark": {"type": "text", "text": "Unprocessed spectra", "align": "center", "baseline": "alphabetic", "fontSize": 22.5, "fontWeight": "bold", "color": "#000000"}, "encoding": {"x": {"datum": 1000}, "y": {"datum": 1.0406}}},
    {"data": {"values": [{}]}, "mark": {"type": "text", "text": "(a)", "align": "left", "baseline": "alphabetic", "fontSize": 22, "color": "#000000"}, "encoding": {"x": {"datum": 100}, "y": {"datum": 1.0368}}}
   ]},
  {"width": 160.3, "height": 316, "view": {"stroke": null}, "data": {"values": []}, "mark": "point", "encoding": {}},
  {"width": 365, "height": 316,
   "layer": [
    {"data": {"name": "specB"}, "transform": [{"filter": {"field": "t", "equal": "Tissue 1"}}],
     "mark": {"type": "area", "color": "#FF0000", "opacity": 1},
     "encoding": {
      "x": {"field": "w", "type": "quantitative", "scale": {"domain": [400, 1600], "nice": false, "zero": false}, "axis": {"values": [400,600,800,1000,1200,1400,1600], "format": "d", "title": "Wavelength (nm)", "titleX": 182.5, "titleY": 59}},
      "y": {"field": "hi", "type": "quantitative", "scale": {"domain": [-2, 2], "nice": false, "zero": false}, "axis": {"values": [-2,-1,0,1,2], "format": "~g", "title": "Processed (−)", "titleX": -38.9, "titleY": 158}},
      "y2": {"field": "lo"}}},
    {"data": {"name": "specB"}, "transform": [{"filter": {"field": "t", "equal": "Tissue 2"}}],
     "mark": {"type": "area", "color": "#0000FF", "opacity": 1},
     "encoding": {"x": {"field": "w", "type": "quantitative"}, "y": {"field": "hi", "type": "quantitative"}, "y2": {"field": "lo"}}},
    {"data": {"name": "specB"},
     "mark": {"type": "line", "strokeWidth": 1},
     "encoding": {"x": {"field": "w", "type": "quantitative"}, "y": {"field": "hi", "type": "quantitative"},
      "color": {"field": "t", "type": "nominal", "scale": {"domain": ["Tissue 1", "Tissue 2"], "range": ["#FF0000", "#0000FF"]},
       "legend": {"title": null, "orient": "top-right", "offset": 16, "symbolType": "stroke", "symbolSize": 3721, "symbolStrokeWidth": 3, "labelOffset": 6, "rowPadding": 6}}}},
    {"data": {"values": [{}]}, "mark": {"type": "rule", "color": "#404040", "strokeDash": [10, 6], "strokeWidth": 1.5}, "encoding": {"x": {"datum": 695}}},
    {"data": {"values": [{}]}, "mark": {"type": "text", "text": "Processed spectra", "align": "center", "baseline": "alphabetic", "fontSize": 22.5, "fontWeight": "bold", "color": "#000000"}, "encoding": {"x": {"datum": 1000}, "y": {"datum": 2.135}}},
    {"data": {"values": [{}]}, "mark": {"type": "text", "text": "(b)", "align": "left", "baseline": "alphabetic", "fontSize": 22, "color": "#000000"}, "encoding": {"x": {"datum": 126.1}, "y": {"datum": 2.12}}}
   ]}
 ]},
 {"spacing": 22,
  "resolve": {"scale": {"color": "independent", "strokeDash": "independent", "strokeWidth": "independent"}, "legend": {"color": "independent", "strokeDash": "independent", "strokeWidth": "independent"}},
  "vconcat": [
  {"spacing": 0, "bounds": "flush",
   "resolve": {"scale": {"color": "independent", "strokeDash": "independent", "strokeWidth": "independent"}, "legend": {"color": "independent", "strokeDash": "independent", "strokeWidth": "independent"}},
   "hconcat": [
   {"width": 81.3, "height": 318, "view": {"stroke": null}, "data": {"values": []}, "mark": "point", "encoding": {}},
   {"width": 367, "height": 318,
    "layer": [
     {"data": {"name": "histC"},
      "mark": {"type": "bar", "width": 11, "opacity": 1},
      "encoding": {
       "x": {"field": "x", "type": "quantitative", "scale": {"domain": [0.296, 0.812], "nice": false, "zero": false}, "axis": {"values": [0.3,0.4,0.5,0.6,0.7,0.8], "format": "~g", "title": "Reflection (fraction)", "titleX": 183.5, "titleY": 60}},
       "y": {"field": "n", "type": "quantitative", "stack": null, "scale": {"domain": [0, 15], "nice": false}, "axis": {"values": [0,5,10,15], "format": "d", "title": "Bins (unitless)", "titleX": -43.2, "titleY": 159}},
       "color": {"field": "s", "type": "nominal", "scale": {"domain": ["Distribution tissue 1", "Distribution tissue 2", "Overlap"], "range": ["#FF8080", "#8080FF", "#8F008F"]},
        "legend": {"title": null, "orient": "top-right", "offset": 15.5, "symbolType": "M-1,-0.3H1V0.3H-1Z", "symbolSize": 3844, "symbolStrokeWidth": 0, "labelOffset": 5, "rowPadding": 6.7}}}},
     {"data": {"values": [{}]}, "mark": {"type": "rect", "color": "#FF0000"}, "encoding": {"x": {"datum": 0.6298}, "x2": {"datum": 0.8159}, "y": {"datum": 6.49}, "y2": {"datum": 3.1}}},
     {"data": {"values": [{}]}, "mark": {"type": "rule", "color": "#FF0000", "strokeWidth": 4.5}, "encoding": {"x": {"datum": 0.543}, "y": {"datum": 2.68}, "x2": {"datum": 0.599}, "y2": {"datum": 5.98}}},
     {"data": {"values": [{}]}, "mark": {"type": "rule", "color": "#FF0000", "strokeWidth": 4.5}, "encoding": {"x": {"datum": 0.597}, "y": {"datum": 5.98}, "x2": {"datum": 0.614}, "y2": {"datum": 5.98}}},
     {"data": {"values": [{}]}, "mark": {"type": "text", "text": "High", "align": "center", "baseline": "alphabetic", "font": "Roboto", "fontWeight": "bold", "fontSize": 24, "color": "#FFFFFF"}, "encoding": {"x": {"datum": 0.7236}, "y": {"datum": 5.04}}},
     {"data": {"values": [{}]}, "mark": {"type": "text", "text": "overlap", "align": "center", "baseline": "alphabetic", "font": "Roboto", "fontWeight": "bold", "fontSize": 24, "color": "#FFFFFF"}, "encoding": {"x": {"datum": 0.7236}, "y": {"datum": 3.7}}},
     {"data": {"values": [{}]}, "mark": {"type": "point", "shape": "M-0.4,-0.89L0.4,-0.89L0.4,-0.02L1,-0.02L0,0.89L-1,-0.02L-0.4,-0.02Z", "size": 2777, "filled": true, "color": "#FF0000", "opacity": 1, "strokeWidth": 0}, "encoding": {"x": {"datum": 0.5646}, "y": {"datum": 18.0}}},
     {"data": {"values": [{}]}, "mark": {"type": "text", "text": "Unprocessed distribution at λ=695", "align": "center", "baseline": "alphabetic", "fontSize": 22.5, "fontWeight": "bold", "color": "#000000"}, "encoding": {"x": {"datum": 0.5525}, "y": {"datum": 15.5}}},
     {"data": {"values": [{}]}, "mark": {"type": "text", "text": "(c)", "align": "left", "baseline": "alphabetic", "fontSize": 22, "color": "#000000"}, "encoding": {"x": {"datum": 0.1823}, "y": {"datum": 15.5}}}
    ]},
   {"width": 160.3, "height": 318, "view": {"stroke": null}, "data": {"values": []}, "mark": "point", "encoding": {}},
   {"width": 365, "height": 318,
    "layer": [
     {"data": {"name": "histD"},
      "mark": {"type": "bar", "width": 11, "opacity": 1},
      "encoding": {
       "x": {"field": "x", "type": "quantitative", "scale": {"domain": [1.4614, 1.5175], "nice": false, "zero": false}, "axis": {"values": [1.47,1.48,1.49,1.5,1.51], "format": "~g", "title": "Reflection (fraction)", "titleX": 182.5, "titleY": 60}},
       "y": {"field": "n", "type": "quantitative", "stack": null, "scale": {"domain": [0, 15], "nice": false}, "axis": {"values": [0,5,10,15], "format": "d", "title": "Bins (unitless)", "titleX": -43.9, "titleY": 159}},
       "color": {"field": "s", "type": "nominal", "scale": {"domain": ["Distribution tissue 1", "Distribution tissue 2", "Overlap"], "range": ["#FF8080", "#8080FF", "#8F008F"]},
        "legend": {"title": null, "orient": "top-right", "offset": 15, "symbolType": "M-1,-0.3H1V0.3H-1Z", "symbolSize": 3844, "symbolStrokeWidth": 0, "labelOffset": 5, "rowPadding": 6.7}}}},
     {"data": {"values": [{}]}, "mark": {"type": "rect", "color": "#00B050"}, "encoding": {"x": {"datum": 1.502}, "x2": {"datum": 1.5224}, "y": {"datum": 6.11}, "y2": {"datum": 2.71}}},
     {"data": {"values": [{}]}, "mark": {"type": "rule", "color": "#00B050", "strokeWidth": 4.5}, "encoding": {"x": {"datum": 1.4924}, "y": {"datum": 2.28}, "x2": {"datum": 1.49855}, "y2": {"datum": 5.59}}},
     {"data": {"values": [{}]}, "mark": {"type": "rule", "color": "#00B050", "strokeWidth": 4.5}, "encoding": {"x": {"datum": 1.4982}, "y": {"datum": 5.59}, "x2": {"datum": 1.50025}, "y2": {"datum": 5.59}}},
     {"data": {"values": [{}]}, "mark": {"type": "text", "text": "Low", "align": "center", "baseline": "alphabetic", "font": "Roboto", "fontWeight": "bold", "fontSize": 24, "color": "#FFFFFF"}, "encoding": {"x": {"datum": 1.51228}, "y": {"datum": 4.67}}},
     {"data": {"values": [{}]}, "mark": {"type": "text", "text": "overlap", "align": "center", "baseline": "alphabetic", "font": "Roboto", "fontWeight": "bold", "fontSize": 24, "color": "#FFFFFF"}, "encoding": {"x": {"datum": 1.51228}, "y": {"datum": 3.31}}},
     {"data": {"values": [{}]}, "mark": {"type": "point", "shape": "M-0.4,-0.89L0.4,-0.89L0.4,-0.02L1,-0.02L0,0.89L-1,-0.02L-0.4,-0.02Z", "size": 2777, "filled": true, "color": "#00B050", "opacity": 1, "strokeWidth": 0}, "encoding": {"x": {"datum": 1.48831}, "y": {"datum": 18.0}}},
     {"data": {"values": [{}]}, "mark": {"type": "text", "text": "Processed distribution at λ=695", "align": "center", "baseline": "alphabetic", "fontSize": 22.5, "fontWeight": "bold", "color": "#000000"}, "encoding": {"x": {"datum": 1.48963}, "y": {"datum": 15.5}}},
     {"data": {"values": [{}]}, "mark": {"type": "text", "text": "(d)", "align": "left", "baseline": "alphabetic", "fontSize": 22, "color": "#000000"}, "encoding": {"x": {"datum": 1.44035}, "y": {"datum": 15.5}}}
    ]}
  ]},
  {"spacing": 0, "bounds": "flush",
   "resolve": {"scale": {"color": "independent", "strokeDash": "independent", "strokeWidth": "independent"}, "legend": {"color": "independent", "strokeDash": "independent", "strokeWidth": "independent"}},
   "hconcat": [
   {"width": 79.3, "height": 316, "view": {"stroke": null}, "data": {"values": []}, "mark": "point", "encoding": {}},
   {"width": 367, "height": 316,
    "layer": [
     {"data": {"name": "ovE"}, "transform": [{"fold": ["v"], "as": ["s0", "val"]}, {"lookup": "s0", "from": {"data": {"values": [{"s0": "v", "s": "Overlap coefficient"}]}, "key": "s0", "fields": ["s"]}}],
      "mark": {"type": "line", "strokeWidth": 2.2},
      "encoding": {
       "x": {"field": "w", "type": "quantitative", "scale": {"domain": [400, 1600], "nice": false, "zero": false}, "axis": {"values": [400,600,800,1000,1200,1400,1600], "format": "d", "title": "Wavelength (nm)", "titleX": 183.5, "titleY": 59}},
       "y": {"field": "val", "type": "quantitative", "scale": {"domain": [0, 1], "nice": false, "zero": false}, "axis": {"values": [0,0.2,0.4,0.6,0.8,1], "format": "~g", "title": "Overlap coefficient (fraction)", "titleX": -49.5, "titleY": 158}},
       "color": {"field": "s", "type": "nominal", "scale": {"domain": ["Overlap coefficient", "Mean overlap coefficient"], "range": ["#990099", "#FF3333"]}, "legend": {"title": null, "orient": "top-right", "offset": 15, "symbolType": "stroke", "symbolSize": 3800, "labelOffset": 5, "rowPadding": 6}},
       "strokeDash": {"field": "s", "type": "nominal", "scale": {"domain": ["Overlap coefficient", "Mean overlap coefficient"], "range": [[1, 0], [12, 8]]}, "legend": {"title": null, "orient": "top-right", "offset": 15, "symbolType": "stroke", "symbolSize": 3800, "labelOffset": 5, "rowPadding": 6}}}},
     {"data": {"values": [{}]}, "mark": {"type": "rule", "color": "#404040", "strokeDash": [10, 6], "strokeWidth": 1.5}, "encoding": {"x": {"datum": 695}}},
     {"data": {"name": "meanE"}, "transform": [{"fold": ["v"], "as": ["s0", "val"]}, {"lookup": "s0", "from": {"data": {"values": [{"s0": "v", "s": "Mean overlap coefficient"}]}, "key": "s0", "fields": ["s"]}}],
      "mark": {"type": "line"},
      "encoding": {"x": {"field": "w", "type": "quantitative"}, "y": {"field": "val", "type": "quantitative"},
       "color": {"field": "s", "type": "nominal"}, "strokeDash": {"field": "s", "type": "nominal"},
       "strokeWidth": {"field": "s", "type": "nominal", "scale": {"domain": ["Overlap coefficient", "Mean overlap coefficient"], "range": [1.7, 3.5]}, "legend": {"title": null, "orient": "top-right", "offset": 15, "symbolType": "stroke", "symbolSize": 3800, "labelOffset": 5, "rowPadding": 6}}}},
     {"data": {"values": [{}]}, "mark": {"type": "text", "text": "Mean overlap =0.46", "align": "right", "baseline": "alphabetic", "fontSize": 20, "color": "#FF3333"}, "encoding": {"x": {"datum": 1565}, "y": {"datum": 0.383}}},
     {"data": {"values": [{}]}, "mark": {"type": "point", "shape": "M-0.4,-0.89L0.4,-0.89L0.4,-0.02L1,-0.02L0,0.89L-1,-0.02L-0.4,-0.02Z", "size": 2777, "filled": true, "color": "#FF0000", "opacity": 1, "strokeWidth": 0}, "encoding": {"x": {"datum": 1031.1}, "y": {"datum": 1.2557}}},
     {"data": {"values": [{}]}, "mark": {"type": "text", "text": "Overlap coefficient unprocessed spectra", "align": "center", "baseline": "alphabetic", "fontSize": 22.5, "fontWeight": "bold", "color": "#000000"}, "encoding": {"x": {"datum": 997.4}, "y": {"datum": 1.042}}},
     {"data": {"values": [{}]}, "mark": {"type": "text", "text": "(e)", "align": "left", "baseline": "alphabetic", "fontSize": 22, "color": "#000000"}, "encoding": {"x": {"datum": 140.7}, "y": {"datum": 1.042}}}
    ]},
   {"width": 161.7, "height": 316, "view": {"stroke": null}, "data": {"values": []}, "mark": "point", "encoding": {}},
   {"width": 365, "height": 316,
    "layer": [
     {"data": {"name": "ovF"}, "transform": [{"fold": ["v"], "as": ["s0", "val"]}, {"lookup": "s0", "from": {"data": {"values": [{"s0": "v", "s": "Overlap coefficient"}]}, "key": "s0", "fields": ["s"]}}],
      "mark": {"type": "line"},
      "encoding": {
       "x": {"field": "w", "type": "quantitative", "scale": {"domain": [400, 1600], "nice": false, "zero": false}, "axis": {"values": [400,600,800,1000,1200,1400,1600], "format": "d", "title": "Wavelength (nm)", "titleX": 182.5, "titleY": 59}},
       "y": {"field": "val", "type": "quantitative", "scale": {"domain": [0, 1], "nice": false, "zero": false}, "axis": {"values": [0,0.2,0.4,0.6,0.8,1], "format": "~g", "title": "Overlap coefficient (fraction)", "titleX": -49.9, "titleY": 158}},
       "detail": {"field": "g"},
       "color": {"field": "s", "type": "nominal", "scale": {"domain": ["Overlap coefficient", "Mean overlap coefficient"], "range": ["#990099", "#FF3333"]}, "legend": {"title": null, "orient": "top-right", "offset": 15, "symbolType": "stroke", "symbolSize": 3800, "labelOffset": 5, "rowPadding": 6}},
       "strokeDash": {"field": "s", "type": "nominal", "scale": {"domain": ["Overlap coefficient", "Mean overlap coefficient"], "range": [[1, 0], [12, 8]]}, "legend": {"title": null, "orient": "top-right", "offset": 15, "symbolType": "stroke", "symbolSize": 3800, "labelOffset": 5, "rowPadding": 6}},
       "strokeWidth": {"field": "s", "type": "nominal", "scale": {"domain": ["Overlap coefficient", "Mean overlap coefficient"], "range": [1.7, 3.5]}, "legend": {"title": null, "orient": "top-right", "offset": 15, "symbolType": "stroke", "symbolSize": 3800, "labelOffset": 5, "rowPadding": 6}}}},
     {"data": {"values": [{}]}, "mark": {"type": "rule", "color": "#404040", "strokeDash": [10, 6], "strokeWidth": 2}, "encoding": {"x": {"datum": 695}}},
     {"data": {"name": "meanF"}, "transform": [{"fold": ["v"], "as": ["s0", "val"]}, {"lookup": "s0", "from": {"data": {"values": [{"s0": "v", "s": "Mean overlap coefficient"}]}, "key": "s0", "fields": ["s"]}}],
      "mark": {"type": "line"},
      "encoding": {"x": {"field": "w", "type": "quantitative"}, "y": {"field": "val", "type": "quantitative"},
       "color": {"field": "s", "type": "nominal"}, "strokeDash": {"field": "s", "type": "nominal"}, "strokeWidth": {"field": "s", "type": "nominal"}}},
     {"data": {"values": [{}]}, "mark": {"type": "text", "text": "Mean overlap =0.09", "align": "right", "baseline": "alphabetic", "fontSize": 20, "color": "#FF3333"}, "encoding": {"x": {"datum": 1574.7}, "y": {"datum": 0.1117}}},
     {"data": {"values": [{}]}, "mark": {"type": "point", "shape": "M-0.4,-0.89L0.4,-0.89L0.4,-0.02L1,-0.02L0,0.89L-1,-0.02L-0.4,-0.02Z", "size": 2777, "filled": true, "color": "#00B050", "opacity": 1, "strokeWidth": 0}, "encoding": {"x": {"datum": 976.3}, "y": {"datum": 1.2557}}},
     {"data": {"values": [{}]}, "mark": {"type": "text", "text": "Overlap coefficient processed spectra", "align": "center", "baseline": "alphabetic", "fontSize": 22.5, "fontWeight": "bold", "color": "#000000"}, "encoding": {"x": {"datum": 988.5}, "y": {"datum": 1.042}}},
     {"data": {"values": [{}]}, "mark": {"type": "text", "text": "(f)", "align": "left", "baseline": "alphabetic", "fontSize": 22, "color": "#000000"}, "encoding": {"x": {"datum": 179.7}, "y": {"datum": 1.042}}}
    ]}
  ]}
 ]}
]
}
